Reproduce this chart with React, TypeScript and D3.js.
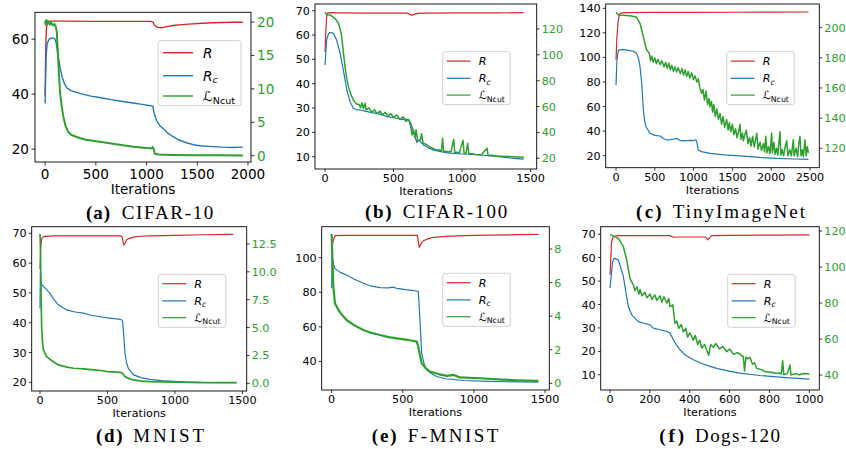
import React from 'react';
import * as d3 from 'd3';

type Pt = [number, number];

// ---------- (a) CIFAR-10 ----------
const A_R: Pt[] = [[0,39.5],[4,52],[8,60],[14,64.5],[25,66.2],[50,66.6],[200,66.6],[500,66.5],[800,66.5],[1040,66.5],[1062,66.3],[1080,65.0],[1110,64.3],[1150,64.2],[1200,64.6],[1260,65.0],[1350,65.3],[1450,65.6],[1550,65.8],[1650,66.0],[1750,66.1],[1850,66.2],[1950,66.2]];
const A_Rc: Pt[] = [[0,36.6],[5,46],[10,54],[20,58.5],[40,60.0],[65,60.5],[95,60.2],[110,58.5],[130,53.5],[150,49],[170,46],[190,43.8],[215,42.2],[260,41.2],[350,40.2],[450,39.3],[550,38.7],[650,38.0],[750,37.4],[870,36.8],[970,36.2],[1040,35.8],[1062,35.6],[1075,33],[1100,30.3],[1130,28.6],[1165,27.4],[1210,25.8],[1262,24.5],[1320,23.3],[1393,22.3],[1460,21.6],[1525,21.2],[1650,20.9],[1750,20.7],[1850,20.6],[1950,20.7]];
const A_L: Pt[] = [[0,20.2],[5,19.6],[12,20.3],[20,19.8],[30,20.1],[45,19.6],[60,19.9],[75,19.5],[90,19.7],[105,19.3],[115,18.5],[125,15.5],[135,12.5],[148,9.3],[165,7.2],[180,5.8],[200,4.5],[230,3.5],[260,3.1],[311,2.8],[400,2.4],[541,2.1],[700,1.7],[869,1.35],[1000,1.15],[1049,1.1],[1060,1.3],[1070,1.0],[1082,0.3],[1120,0.18],[1250,0.12],[1500,0.08],[1750,0.06],[1950,0.05]];

// ---------- (b) CIFAR-100 ----------
const B_R: Pt[] = [[0,53],[5,60],[10,66],[15,68.9],[30,69.2],[100,69.1],[300,69.0],[500,69.0],[600,69.0],[615,68.6],[630,68.1],[650,68.5],[680,68.9],[750,69.0],[1000,69.1],[1250,69.1],[1450,69.2]];
const B_Rc: Pt[] = [[0,47.7],[5,52],[12,58],[25,60.5],[37,61.1],[61,60.7],[85,57.9],[110,52.5],[134,45.6],[159,37.4],[183,32.6],[207,29.9],[230,29.3],[256,29.2],[300,28.6],[350,28.0],[402,27.5],[450,26.5],[524,25.8],[560,25.3],[590,25.4],[610,25.1],[625,24],[640,21.5],[660,17.5],[671,15.8],[685,16.8],[695,16.2],[720,14.8],[760,13.5],[793,12.7],[890,11.6],[1000,11.1],[1134,10.7],[1250,10.1],[1378,9.3],[1451,9.0]];
const B_L: Pt[] = [[0,132.9],[15,131],[37,130.8],[73,128.2],[98,124.4],[110,120],[122,114],[134,102],[146,90.9],[158,82],[171,75.4],[190,69],[207,65.1],[230,62],[250,61.5],[260,59],[270,63],[280,58.5],[293,62.5],[300,57.5],[320,59],[340,55.5],[360,57.5],[380,54.5],[402,56.5],[420,53.5],[440,55.5],[460,52.5],[480,54.5],[500,51.5],[524,53.5],[545,50],[570,52],[590,48.5],[610,50],[625,45],[635,38],[646,41.9],[655,36],[665,42],[675,34],[695,34.2],[705,39],[715,32],[744,30.3],[760,29],[780,28],[800,27],[817,26.4],[835,26.5],[850,25.5],[858,35.5],[866,25.3],[885,25.5],[900,24.8],[920,25.2],[939,34.7],[947,24.5],[965,24.6],[980,24],[1007,34],[1015,23.8],[1030,24],[1041,31.6],[1050,23.4],[1075,23.5],[1100,23],[1140,22.8],[1183,27.7],[1190,22.2],[1220,22.4],[1256,21.8],[1300,21.5],[1350,21.3],[1400,21],[1451,20.8]];

// ---------- (c) TinyImageNet ----------
const C_R: Pt[] = [[0,97.9],[10,115],[25,128],[40,134],[52,135.9],[100,136.5],[500,136.6],[1000,136.7],[1500,136.8],[2000,136.9],[2480,137]];
const C_Rc: Pt[] = [[0,77.6],[10,95],[20,102],[30,106],[100,106.3],[180,105.5],[223,105],[266,103.3],[290,99],[309,92.5],[331,78.9],[352,57.2],[370,48],[387,43.6],[438,38.2],[500,36.5],[567,36],[610,34],[653,32.8],[700,33],[740,33.5],[782,34.1],[820,32.5],[870,32],[911,32.2],[960,32.5],[1000,32.3],[1030,33],[1045,30],[1061,24.6],[1100,23.3],[1211,21.9],[1400,20.6],[1641,19.7],[1850,18.6],[2070,17.8],[2300,17.3],[2480,17]];
const C_L: Pt[] = [[0,210.2],[30,208.4],[100,208.2],[200,207.8],[266,206.9],[309,202.9],[352,194],[395,185.2],[430,183],[445,178],[460,181],[480,177],[500,180],[520,176],[540,179],[567,175.5],[590,178],[620,174],[640,177],[660,173],[680,176.5],[700,172],[720,175],[740,171],[760,174],[782,170.5],[800,173.5],[830,169.5],[850,173],[870,168.5],[890,172],[910,167.5],[930,171],[950,166.5],[975,170],[997,165.5],[1020,168],[1040,164],[1061,166],[1080,160],[1104,156.5],[1120,159],[1140,152],[1160,158],[1180,149],[1200,153],[1211,147.6],[1230,151],[1245,144],[1260,149],[1280,141],[1300,146],[1320,139],[1340,143],[1360,136],[1380,141],[1400,134],[1426,139],[1445,132],[1460,137],[1480,131],[1500,136],[1520,129],[1540,133],[1560,127],[1580,131],[1598,136],[1610,126],[1630,130],[1641,125],[1660,129],[1680,132],[1700,123],[1720,127],[1740,121.5],[1760,128],[1780,121],[1800,126],[1815,130],[1830,119.5],[1856,124],[1875,118.5],[1900,123],[1915,117.5],[1930,128],[1945,117],[1965,121],[1985,116.5],[2006,130],[2015,117],[2035,124],[2050,116],[2070,120],[2085,115.5],[2100,124],[2113,131],[2125,115.5],[2140,119],[2160,115],[2180,121],[2200,125],[2215,115],[2240,119],[2260,115],[2285,125.6],[2295,115],[2320,120],[2340,114.5],[2355,123],[2371,128],[2385,115],[2400,119],[2415,114.5],[2435,125.6],[2450,115],[2465,121],[2480,117]];

// ---------- (d) MNIST ----------
const D_R: Pt[] = [[0,58],[5,65],[12,68],[25,68.9],[100,69.1],[300,69.1],[500,69.1],[600,69.1],[610,68.5],[618,66.5],[623,66.1],[632,66.8],[642,67.8],[665,68.3],[692,68.7],[750,69.0],[815,69.1],[1000,69.3],[1200,69.5],[1433,69.6]];
const D_Rc: Pt[] = [[0,44.8],[3,57.1],[8,53.5],[15,52.7],[40,51.5],[74,49.9],[100,48],[136,46],[198,44.3],[260,43.6],[321,43.2],[380,42.5],[445,42],[500,41.6],[568,41.3],[605,41.0],[612,40.5],[618,37.6],[630,29.7],[642,26.5],[655,24.7],[692,22.5],[750,21.6],[815,21],[900,20.6],[1062,20.2],[1200,20.0],[1458,19.9]];
const D_L: Pt[] = [[0,13.4],[3,12.5],[7,8.7],[12,5.1],[18,3.8],[25,3.0],[49,2.4],[90,2.0],[136,1.65],[200,1.45],[250,1.35],[321,1.3],[400,1.2],[450,1.15],[500,1.05],[568,1.0],[605,0.96],[618,0.8],[630,0.6],[660,0.42],[692,0.3],[750,0.2],[815,0.15],[1000,0.1],[1200,0.07],[1458,0.06]];

// ---------- (e) F-MNIST ----------
const E_R: Pt[] = [[0,103.5],[8,109],[23,112.7],[100,112.9],[300,112.9],[500,112.9],[602,112.9],[610,109],[616,106],[630,108.3],[645,109.8],[680,111],[715,111.7],[800,112.3],[926,112.7],[1100,113],[1300,113.3],[1453,113.5]];
const E_Rc: Pt[] = [[0,82.3],[3,101.5],[10,97],[23,93.8],[60,91.5],[105,90],[160,87.5],[223,85.2],[280,83.5],[340,82.7],[400,82.5],[430,83],[457,82.3],[520,81.5],[574,81],[600,80.6],[609,80.4],[621,64],[633,44.8],[650,38.5],[668,35.2],[700,33],[738,31.3],[800,30],[926,29],[1100,28.5],[1300,28.2],[1453,28.1]];
const E_L: Pt[] = [[0,8.9],[5,7.5],[12,5.76],[23,4.77],[47,4.37],[75,4.05],[105,3.77],[160,3.45],[223,3.18],[280,3.0],[340,2.88],[400,2.75],[457,2.68],[520,2.6],[560,2.55],[598,2.48],[609,2.19],[620,1.7],[633,1.2],[660,0.9],[691,0.7],[750,0.55],[809,0.44],[860,0.5],[900,0.35],[1043,0.3],[1200,0.22],[1300,0.18],[1453,0.14]];

// ---------- (f) Dogs-120 ----------
const F_R: Pt[] = [[0,52.7],[8,66.9],[17,69],[40,69.4],[150,69.4],[300,69.4],[318,68.7],[350,68.8],[480,68.8],[490,67.6],[500,68.5],[510,69.4],[600,69.5],[800,69.6],[1000,69.7]];
const F_Rc: Pt[] = [[0,47],[13,58.3],[22,59.8],[42,59],[67,52],[80,45],[92,39.1],[109,35.6],[142,32.7],[170,32],[201,31.3],[217,29.9],[250,29.2],[284,28.5],[301,27.8],[318,24.9],[335,22.5],[351,20.7],[380,18.3],[418,16.4],[460,14.8],[502,13.6],[540,12.6],[585,11.8],[650,10.7],[753,9.7],[850,9.0],[920,8.6],[1000,8.1]];
const F_L: Pt[] = [[0,118.1],[20,117],[42,115.9],[67,111.3],[84,103.9],[100,93.7],[117,90],[125,87],[135,89],[145,85],[151,87.5],[160,84],[175,86],[185,83],[201,85],[210,82],[225,84.5],[235,81.5],[251,84],[260,80.5],[270,83.5],[285,80],[295,82.5],[301,78],[315,79],[326,68.7],[335,70],[345,66],[358,68],[368,64],[380,66],[390,61],[400,63.5],[418,59.4],[428,62],[440,57],[450,59.5],[460,55],[475,57],[485,53.9],[495,51],[505,57],[518,55.5],[530,57.5],[550,54.5],[565,56],[585,53],[600,54.5],[620,51.5],[640,52.5],[669,50.2],[675,42.2],[682,50],[690,49],[702,49.8],[715,46],[725,46.8],[736,43.7],[760,43],[780,41.8],[810,41.5],[836,40.9],[850,41.2],[860,40.5],[866,48],[872,40.3],[890,40.8],[903,45.6],[908,40],[930,40.8],[950,40.2],[975,40.9],[1000,40.6]];

// ---------- ticks ----------
const A_XT = [0, 500, 1000, 1500, 2000], A_LT = [20, 40, 60], A_RT = [0, 5, 10, 15, 20];
const B_XT = [0, 500, 1000, 1500], B_LT = [10, 20, 30, 40, 50, 60, 70], B_RT = [20, 40, 60, 80, 100, 120];
const C_XT = [0, 500, 1000, 1500, 2000, 2500], C_LT = [20, 40, 60, 80, 100, 120, 140], C_RT = [120, 140, 160, 180, 200];
const D_XT = [0, 500, 1000, 1500], D_LT = [20, 30, 40, 50, 60, 70], D_RT = [0, 2.5, 5, 7.5, 10, 12.5];
const E_XT = [0, 500, 1000, 1500], E_LT = [40, 60, 80, 100], E_RT = [0, 2, 4, 6, 8];
const F_XT = [0, 200, 400, 600, 800, 1000], F_LT = [10, 20, 30, 40, 50, 60, 70], F_RT = [40, 60, 80, 100, 120];

const LETTERS = ['(a)', '(b)', '(c)', '(d)', '(e)', '(f)'];
const NAMES = ['CIFAR-10', 'CIFAR-100', 'TinyImageNet', 'MNIST', 'F-MNIST', 'Dogs-120'];

const RED = '#d62728', BLUE = '#1f77b4', GREEN = '#2ca02c';
const SANS = 'DejaVu Sans, Verdana, sans-serif';
const SERIF = 'Liberation Serif, serif';

interface Spec {
  id: string;
  box: [number, number, number, number];
  xDom: [number, number];
  lDom: [number, number];
  rDom: [number, number];
  xT: number[]; lT: number[]; rT: number[];
  rFmt: (v: number) => string;
  R: Pt[]; Rc: Pt[]; L: Pt[];
  gw: number;
  leg: [number, number];
  big: boolean;
  cap: { letter: string; name: string; lx: [number, number]; nx: [number, number]; y: number };
}

const fmtInt = (v: number) => String(v);

const specs: Spec[] = [
  { id: 'a', box: [35, 251, 12.3, 162], xDom: [-100, 2030], lDom: [15.3, 69.8], rDom: [-0.94, 21.45],
    xT: A_XT, lT: A_LT, rT: A_RT, rFmt: fmtInt, R: A_R, Rc: A_Rc, L: A_L, gw: 2.0, leg: [158, 40.7], big: true,
    cap: { letter: LETTERS[0], name: NAMES[0], lx: [86, 110], nx: [121.7, 213.3], y: 219.3 } },
  { id: 'b', box: [315, 536.7, 4, 169], xDom: [-73, 1545], lDom: [4.94, 72.75], rDom: [11.7, 139.3],
    xT: B_XT, lT: B_LT, rT: B_RT, rFmt: fmtInt, R: B_R, Rc: B_Rc, L: B_L, gw: 1.5, leg: [442.7, 51.7], big: false,
    cap: { letter: LETTERS[1], name: NAMES[1], lx: [365, 391.7], nx: [402.7, 507.3], y: 217.5 } },
  { id: 'c', box: [605.7, 819.3, 4, 167.7], xDom: [-133, 2620], lDom: [10.2, 143.5], rDom: [107.1, 215.7],
    xT: C_XT, lT: C_LT, rT: C_RT, rFmt: fmtInt, R: C_R, Rc: C_Rc, L: C_L, gw: 1.5, leg: [726.7, 51.7], big: false,
    cap: { letter: LETTERS[2], name: NAMES[2], lx: [636, 661.7], nx: [672.7, 805], y: 217.5 } },
  { id: 'd', box: [31.7, 246.7, 226.7, 391], xDom: [-61.5, 1532], lDom: [17.1, 72.2], rDom: [-0.69, 14.05],
    xT: D_XT, lT: D_LT, rT: D_RT, rFmt: d3.format('.1f'), R: D_R, Rc: D_Rc, L: D_L, gw: 1.7, leg: [158.3, 274.3], big: false,
    cap: { letter: LETTERS[3], name: NAMES[3], lx: [96, 122.7], nx: [133.3, 204], y: 441.5 } },
  { id: 'e', box: [321.7, 549.3, 226.7, 390], xDom: [-70, 1530], lDom: [23.5, 117.9], rDom: [-0.4, 9.33],
    xT: E_XT, lT: E_LT, rT: E_RT, rFmt: fmtInt, R: E_R, Rc: E_Rc, L: E_L, gw: 2.2, leg: [442.7, 273.3], big: false,
    cap: { letter: LETTERS[4], name: NAMES[4], lx: [371.7, 396.7], nx: [407.7, 498.3], y: 441.5 } },
  { id: 'f', box: [600.7, 819.3, 226.7, 390], xDom: [-46.7, 1050], lDom: [3.5, 73.2], rDom: [31.7, 122.4],
    xT: F_XT, lT: F_LT, rT: F_RT, rFmt: fmtInt, R: F_R, Rc: F_Rc, L: F_L, gw: 1.5, leg: [727.7, 274.3], big: false,
    cap: { letter: LETTERS[5], name: NAMES[5], lx: [659.3, 684], nx: [695, 780], y: 441.5 } },
];

function Panel({ s }: { s: Spec }) {
  const [x0, x1, y0, y1] = s.box;
  const x = d3.scaleLinear().domain(s.xDom).range([x0, x1]);
  const yl = d3.scaleLinear().domain(s.lDom).range([y1, y0]);
  const yr = d3.scaleLinear().domain(s.rDom).range([y1, y0]);
  const lineL = d3.line<Pt>().x(d => x(d[0])).y(d => yl(d[1]));
  const lineR = d3.line<Pt>().x(d => x(d[0])).y(d => yr(d[1]));
  const fs = s.big ? 13.6 : 11.2;
  const tick = s.big ? 3.5 : 3;
  const off = s.big ? 6 : 5;
  const xlabBase = s.big ? 17 : 12.8;
  const lw = s.big ? 1.4 : 1.2;
  const clip = `clip-${s.id}`;

  const [lx, ly] = s.leg;
  const lgW = s.big ? 83 : 67.5;
  const lgH = s.big ? 65 : 53;
  const rows = s.big ? [12, 35, 55.3] : [9.4, 26.6, 43.4];
  const l0 = s.big ? 5 : 4, l1 = s.big ? 35 : 28, tx = s.big ? 45 : 36;
  const tb = s.big ? 4.8 : 4;
  const cols = [RED, BLUE, GREEN];

  return (
    <g>
      <defs>
        <clipPath id={clip}><rect x={x0} y={y0} width={x1 - x0} height={y1 - y0} /></clipPath>
      </defs>
      <g clipPath={`url(#${clip})`} fill="none" strokeLinejoin="round">
        <path d={lineL(s.R) || ''} stroke={RED} strokeWidth={lw} />
        <path d={lineL(s.Rc) || ''} stroke={BLUE} strokeWidth={lw} />
        <path d={lineR(s.L) || ''} stroke={GREEN} strokeWidth={s.gw} />
      </g>
      <rect x={x0} y={y0} width={x1 - x0} height={y1 - y0} fill="none" stroke="#000" strokeWidth={0.9} />
      {s.xT.map(t => (
        <g key={'x' + t}>
          <line x1={x(t)} x2={x(t)} y1={y1} y2={y1 + tick} stroke="#000" strokeWidth={0.8} />
          <text x={x(t)} y={y1 + xlabBase} fontSize={fs} fontFamily={SANS} textAnchor="middle" fill="#000">{t}</text>
        </g>
      ))}
      {s.lT.map(t => (
        <g key={'l' + t}>
          <line x1={x0 - tick} x2={x0} y1={yl(t)} y2={yl(t)} stroke="#000" strokeWidth={0.8} />
          <text x={x0 - off} y={yl(t)} dy="0.36em" fontSize={fs} fontFamily={SANS} textAnchor="end" fill="#000">{t}</text>
        </g>
      ))}
      {s.rT.map(t => (
        <g key={'r' + t}>
          <line x1={x1} x2={x1 + tick} y1={yr(t)} y2={yr(t)} stroke="#000" strokeWidth={0.8} />
          <text x={x1 + off} y={yr(t)} dy="0.36em" fontSize={fs} fontFamily={SANS} textAnchor="start" fill={GREEN}>{s.rFmt(t)}</text>
        </g>
      ))}
      <text x={(x0 + x1) / 2} y={s.big ? y1 + 32 : y1 + 26} fontSize={fs} fontFamily={SANS} textAnchor="middle" fill="#000">Iterations</text>
      <rect x={lx} y={ly} width={lgW} height={lgH} rx={2.5} fill="#fff" fillOpacity={0.8} stroke="#cccccc" strokeWidth={0.9} />
      {rows.map((r, i) => (
        <line key={'lg' + i} x1={lx + l0} x2={lx + l1} y1={ly + r} y2={ly + r} stroke={cols[i]} strokeWidth={lw} />
      ))}
      <text x={lx + tx} y={ly + rows[0] + tb} fontSize={fs} fontFamily={SANS} fontStyle="italic" fill="#000">R</text>
      <text x={lx + tx} y={ly + rows[1] + tb} fontSize={fs} fontFamily={SANS} fill="#000">
        <tspan fontStyle="italic">R</tspan>
        <tspan fontStyle="italic" fontSize={fs * 0.7} dy={fs * 0.22}>c</tspan>
      </text>
      <text x={lx + tx} y={ly + rows[2] + tb} fontSize={fs} fontFamily={SANS} fill="#000">
        <tspan>ℒ</tspan>
        <tspan fontSize={fs * 0.7} dy={fs * 0.22}>Ncut</tspan>
      </text>
      <text x={s.cap.lx[0]} y={s.cap.y} fontSize={19} fontFamily={SERIF} fontWeight="bold" fill="#000"
        textLength={s.cap.lx[1] - s.cap.lx[0]} lengthAdjust="spacing">{s.cap.letter}</text>
      <text x={s.cap.nx[0]} y={s.cap.y} fontSize={19} fontFamily={SERIF} fontWeight="normal" fill="#000"
        textLength={s.cap.nx[1] - s.cap.nx[0]} lengthAdjust="spacing">{s.cap.name}</text>
    </g>
  );
}

export default function App() {
  return (
    <svg width={846} height={449} style={{ position: 'absolute', left: 0, top: 0, background: '#fff' }}>
      <rect x={0} y={0} width={846} height={449} fill="#fff" />
      {specs.map(s => <Panel key={s.id} s={s} />)}
    </svg>
  );
}
